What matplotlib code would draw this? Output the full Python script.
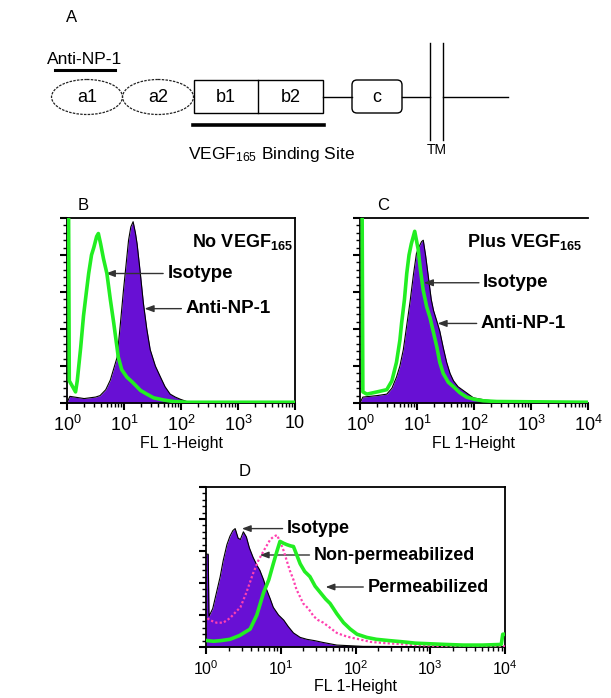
import numpy as np
import matplotlib
matplotlib.use("Agg")
import matplotlib.pyplot as plt
from matplotlib.patches import Ellipse, Rectangle, FancyBboxPatch
from matplotlib.ticker import FixedLocator, LogLocator, MultipleLocator, NullFormatter

plt.rcParams['font.family'] = ['Liberation Sans', 'DejaVu Sans']
plt.rcParams['mathtext.fontset'] = 'custom'
plt.rcParams['mathtext.rm'] = 'Liberation Sans'
plt.rcParams['mathtext.it'] = 'Liberation Sans:italic'
plt.rcParams['mathtext.bf'] = 'Liberation Sans:bold'

W, H = 611, 698
PURPLE = '#6810d4'
GREEN = '#22ee22'
PINK = '#ff40b0'

# ---- data (x read as log10 of FL1-Height, y as counts) ----
b_anti_log = [0.0, 0.05, 0.3, 0.5, 0.58, 0.68, 0.76, 0.88, 0.94, 0.99, 1.08, 1.12, 1.16, 1.2, 1.23,
              1.28, 1.34, 1.4, 1.46, 1.55, 1.64, 1.72, 1.81, 1.9, 1.99, 2.1, 2.3, 4.0]
b_anti_cnt = [0, 9, 6, 8, 10, 18, 31, 62, 110, 152, 220, 238, 245, 230, 215,
              180, 135, 100, 72, 50, 35, 22, 12, 8, 5, 2, 1, 0]
b_iso_log = [0.0, 0.02, 0.04, 0.15, 0.18, 0.24, 0.29, 0.34, 0.38, 0.43, 0.47, 0.52, 0.55, 0.59, 0.64,
             0.7, 0.76, 0.82, 0.86, 0.9, 0.96, 1.05, 1.15, 1.29, 1.4, 1.52, 1.7, 1.87, 2.1, 4.0]
b_iso_cnt = [400, 400, 30, 15, 30, 75, 118, 150, 175, 200, 210, 225, 229, 215, 195,
             175, 140, 108, 85, 62, 45, 35, 28, 17, 12, 7, 4, 2, 1, 1]

c_anti_log = [0.0, 0.05, 0.3, 0.47, 0.56, 0.64, 0.7, 0.76, 0.82, 0.88, 0.94, 0.99, 1.03, 1.08, 1.11,
              1.15, 1.2, 1.25, 1.29, 1.35, 1.4, 1.46, 1.52, 1.58, 1.64, 1.72, 1.81, 1.9, 1.99, 2.2,
              2.45, 2.7, 4.0]
c_anti_cnt = [0, 8, 10, 12, 20, 35, 50, 72, 105, 138, 175, 202, 210, 218, 220,
              200, 170, 140, 125, 110, 97, 75, 55, 40, 30, 22, 17, 12, 7, 4,
              2, 1, 0]
c_iso_log = [0.0, 0.03, 0.05, 0.12, 0.3, 0.47, 0.56, 0.64, 0.7, 0.73, 0.78, 0.82, 0.86, 0.9, 0.96,
             1.02, 1.06, 1.11, 1.17, 1.23, 1.29, 1.35, 1.4, 1.46, 1.55, 1.64, 1.75, 1.87, 2.0, 2.16,
             2.4, 4.0]
c_iso_cnt = [400, 400, 15, 12, 15, 18, 30, 55, 85, 108, 140, 175, 200, 215, 232,
             208, 180, 152, 130, 115, 95, 75, 55, 40, 28, 22, 14, 8, 5, 3,
             2, 1]

d_iso_log = [0.0, 0.03, 0.04, 0.09, 0.14, 0.19, 0.23, 0.28, 0.32, 0.36, 0.39, 0.43, 0.46, 0.5, 0.54,
             0.58, 0.63, 0.68, 0.72, 0.77, 0.81, 0.86, 0.9, 0.97, 1.04, 1.1, 1.17, 1.26, 1.35, 1.45,
             1.57, 1.75, 2.1, 4.0]
d_iso_cnt = [145, 145, 48, 60, 85, 110, 135, 160, 173, 182, 185, 170, 168, 180, 172,
             155, 140, 128, 120, 105, 90, 75, 62, 50, 42, 32, 22, 15, 12, 10,
             7, 3, 1, 0]
d_nonperm_log = [0.02, 0.05, 0.14, 0.23, 0.32, 0.4, 0.46, 0.54, 0.63, 0.7, 0.77, 0.82, 0.86, 0.9, 0.95,
                 1.0, 1.04, 1.08, 1.12, 1.17, 1.21, 1.26, 1.3, 1.37, 1.44, 1.5, 1.57, 1.66, 1.75, 1.84,
                 1.93, 2.05, 2.2, 2.4, 2.55, 2.8, 3.0, 3.5, 4.0]
d_nonperm_cnt = [45, 42, 38, 38, 45, 55, 62, 85, 115, 135, 150, 160, 168, 172, 175,
                 162, 150, 135, 120, 105, 90, 78, 68, 60, 48, 42, 38, 30, 22, 18,
                 15, 12, 8, 6, 5, 3, 2, 1, 1]
d_perm_log = [0.02, 0.1, 0.2, 0.32, 0.45, 0.59, 0.68, 0.77, 0.84, 0.9, 0.95, 0.99, 1.04, 1.08, 1.13,
              1.17, 1.21, 1.26, 1.32, 1.39, 1.46, 1.53, 1.6, 1.66, 1.75, 1.84, 1.93, 2.02, 2.15, 2.28,
              2.45, 2.64, 2.8, 3.0, 3.2, 3.44, 3.7, 3.95, 3.97, 4.0]
d_perm_cnt = [10, 9, 10, 12, 18, 28, 50, 85, 105, 130, 150, 165, 162, 160, 158,
              157, 145, 130, 118, 110, 95, 85, 75, 68, 52, 38, 28, 20, 15, 12,
              10, 8, 6, 5, 4, 3, 3, 4, 20, 20]

x_ticks = [1, 10, 100, 1000, 10000]
x_labels_b = ['$10^0$', '$10^1$', '$10^2$', '$10^3$', '10']
x_labels = ['$10^0$', '$10^1$', '$10^2$', '$10^3$', '$10^4$']

fig = plt.figure(figsize=(W / 100, H / 100), dpi=100)


def box(x0, y0, x1, y1):
    return [x0 / W, 1 - y1 / H, (x1 - x0) / W, (y1 - y0) / H]


def ftext(px, py, s, **kw):
    fig.text(px / W, 1 - py / H, s, **kw)


# ---- panel A: domain diagram ----
axa = fig.add_axes([0, 1 - 180 / H, 1, 180 / H])
axa.set_xlim(0, W)
axa.set_ylim(180, 0)
axa.axis('off')
dash = (0, (2, 1))
for cx, lab in [(87, 'a1'), (158, 'a2')]:
    axa.add_patch(Ellipse((cx, 97), 71, 35, fill=False, lw=0.9, ls=dash, ec='#222222'))
    axa.text(cx, 98, lab, ha='center', va='center', fontsize=13)
axa.add_patch(Rectangle((194, 80), 129, 33, fill=False, lw=1, ec='black'))
axa.plot([258, 258], [80, 113], color='black', lw=1)
axa.text(226, 98, 'b1', ha='center', va='center', fontsize=13)
axa.text(291, 98, 'b2', ha='center', va='center', fontsize=13)
axa.plot([323, 352], [97, 97], color='black', lw=1)
axa.add_patch(FancyBboxPatch((352, 80), 50, 33, boxstyle='round,pad=0,rounding_size=5',
                             fill=False, lw=1, ec='black'))
axa.text(377, 98, 'c', ha='center', va='center', fontsize=13)
axa.plot([402, 430], [97, 97], color='black', lw=1)
axa.plot([430, 430], [43, 140], color='black', lw=1)
axa.plot([443, 443], [43, 140], color='black', lw=1)
axa.plot([443, 508], [97, 97], color='black', lw=1)
axa.plot([55, 115], [70, 70], color='black', lw=2.2)
axa.plot([193, 324], [125, 125], color='black', lw=2.6)
axa.text(85, 60, 'Anti-NP-1', ha='center', va='center', fontsize=12.5)
axa.text(271, 155, 'VEGF$_{165}$ Binding Site', ha='center', va='center', fontsize=12.5)
axa.text(437, 150, 'TM', ha='center', va='center', fontsize=10)
axa.text(72, 17, 'A', ha='center', va='center', fontsize=12)


def style_axes(ax, labels, tsize):
    ax.set_xscale('log')
    ax.set_xlim(1, 10000)
    ax.set_ylim(0, 250)
    ax.xaxis.set_major_locator(FixedLocator(x_ticks))
    ax.set_xticklabels(labels, fontsize=tsize)
    ax.xaxis.set_minor_locator(LogLocator(base=10, subs=np.arange(2, 10)))
    ax.xaxis.set_minor_formatter(NullFormatter())
    ax.yaxis.set_major_locator(MultipleLocator(50))
    ax.yaxis.set_minor_locator(MultipleLocator(10))
    ax.set_yticklabels([])
    ax.tick_params(which='major', direction='out', length=5, width=1.5)
    ax.tick_params(which='minor', direction='out', length=3, width=1)
    for s in ax.spines.values():
        s.set_linewidth(1.3)
    ax.set_xlabel('FL 1-Height', fontsize=11.5, labelpad=1)


def arrow(ax, label, text_xy, tip_xy, size=13.5):
    ax.annotate(label, xy=tip_xy, xycoords='axes fraction', xytext=text_xy,
                textcoords='axes fraction', ha='left', va='center', fontsize=size,
                fontweight='bold',
                arrowprops=dict(arrowstyle='-|>,head_length=0.4,head_width=0.15',
                                color='#333333', lw=1, shrinkA=1, shrinkB=0))


def hist_fill(ax, logs, counts):
    x = 10 ** np.array(logs)
    ax.fill_between(x, counts, color=PURPLE, lw=0, zorder=2)
    ax.plot(x, counts, color='black', lw=0.8, zorder=3)


def hist_line(ax, logs, counts, **kw):
    ax.plot(10 ** np.array(logs), counts, zorder=4, **kw)


# ---- panel B ----
axb = fig.add_axes(box(67, 218, 295, 403))
hist_fill(axb, b_anti_log, b_anti_cnt)
hist_line(axb, b_iso_log, b_iso_cnt, color=GREEN, lw=2.6)
style_axes(axb, x_labels_b, 13)
axb.text(0.99, 0.87, 'No VEGF$_{\\mathbf{165}}$', transform=axb.transAxes, ha='right',
         va='center', fontsize=13, fontweight='bold')
arrow(axb, 'Isotype', (0.44, 0.70), (0.17, 0.70))
arrow(axb, 'Anti-NP-1', (0.52, 0.51), (0.34, 0.51))
ftext(83, 205, 'B', ha='center', va='center', fontsize=12)

# ---- panel C ----
axc = fig.add_axes(box(360, 218, 588, 403))
hist_fill(axc, c_anti_log, c_anti_cnt)
hist_line(axc, c_iso_log, c_iso_cnt, color=GREEN, lw=2.6)
style_axes(axc, x_labels, 13)
axc.spines['right'].set_visible(False)
axc.text(0.47, 0.87, 'Plus VEGF$_{\\mathbf{165}}$', transform=axc.transAxes, ha='left',
         va='center', fontsize=13, fontweight='bold')
arrow(axc, 'Isotype', (0.54, 0.65), (0.28, 0.65))
arrow(axc, 'Anti-NP-1', (0.53, 0.43), (0.34, 0.43))
ftext(383, 205, 'C', ha='center', va='center', fontsize=12)

# ---- panel D ----
axd = fig.add_axes(box(206, 487, 505, 647))
hist_fill(axd, d_iso_log, d_iso_cnt)
hist_line(axd, d_nonperm_log, d_nonperm_cnt, color=PINK, lw=1.6, ls=(0, (1, 1)))
hist_line(axd, d_perm_log, d_perm_cnt, color=GREEN, lw=2.6)
style_axes(axd, x_labels, 11.5)
arrow(axd, 'Isotype', (0.27, 0.74), (0.12, 0.74), 13)
arrow(axd, 'Non-permeabilized', (0.36, 0.575), (0.18, 0.575), 13)
arrow(axd, 'Permeabilized', (0.54, 0.375), (0.40, 0.375), 13)
ftext(245, 471, 'D', ha='center', va='center', fontsize=12)

fig.savefig('out.png', dpi=100)
